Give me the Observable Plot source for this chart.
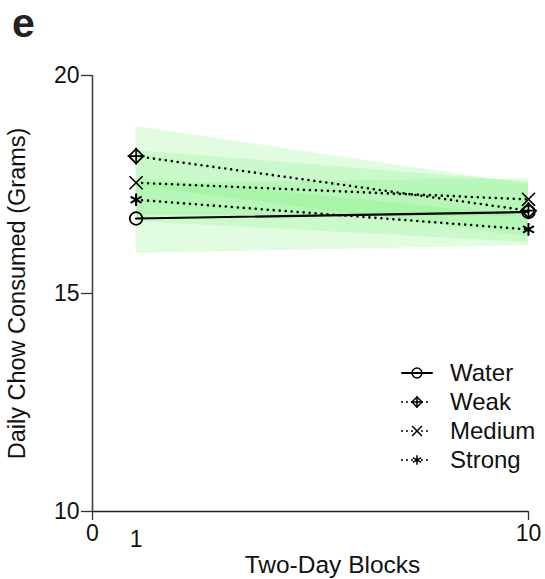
<!DOCTYPE html>
<html>
<head>
<meta charset="utf-8">
<script src="https://cdn.jsdelivr.net/npm/d3@7"></script>
<script src="https://cdn.jsdelivr.net/npm/@observablehq/plot@0.6"></script>
<style>
  body { margin: 0; background: #fff; }
  #wrap { position: relative; width: 545px; height: 579px; font-family: "Liberation Sans", Arial, Helvetica, sans-serif; }
  #panel { position: absolute; left: 12px; top: 2.5px; font-size: 41px; font-weight: bold; line-height: 1; color: #222; }
  #legend { position: absolute; left: 400px; top: 358px; font-size: 24px; color: #111; }
  .row { display: flex; align-items: center; height: 29px; }
  .row svg { margin-right: 16px; }
</style>
</head>
<body>
<div id="wrap">
  <div id="chart"></div>
  <div id="panel">e</div>
  <div id="legend"></div>
</div>
<script>
// Two-day blocks sampled
const blocks = [1, 10];
const seriesNames = ["Water", "Weak", "Medium", "Strong"];

// Mean daily chow (g) per block
const waterMean  = [16.72, 16.87];
const weakMean   = [18.15, 16.90];
const mediumMean = [17.54, 17.16];
const strongMean = [17.15, 16.47];

// Standard error per block
const waterSem  = [0.80, 0.77];
const weakSem   = [0.68, 0.60];
const mediumSem = [0.74, 0.40];
const strongSem = [0.50, 0.30];

// Axis ticks
const xTicks = [0, 10];
const yTicks = [10, 15, 20];

const means = [waterMean, weakMean, mediumMean, strongMean];
const sems = [waterSem, weakSem, mediumSem, strongSem];

const rows = seriesNames.flatMap((s, i) =>
  blocks.map((b, j) => ({
    series: s,
    block: b,
    mean: means[i][j],
    lo: means[i][j] - sems[i][j],
    hi: means[i][j] + sems[i][j]
  }))
);
const of = (s) => rows.filter(d => d.series === s);

const font = "Liberation Sans, Arial, Helvetica, sans-serif";
const ink = "#111";

const chart = Plot.plot({
  width: 545,
  height: 579,
  marginLeft: 92,
  marginRight: 17,
  marginTop: 75,
  marginBottom: 68,
  style: { fontFamily: font, background: "white", color: ink },
  x: { domain: [0, 10] },
  y: { domain: [10, 20] },
  marks: [
    // error bands
    Plot.areaY(rows, { x: "block", y1: "lo", y2: "hi", z: "series", fill: "#6ef06e", fillOpacity: 0.2 }),
    // axes
    Plot.ruleX([0], { y1: 10, y2: 20, stroke: "#444", strokeWidth: 1.6 }),
    Plot.ruleY([10], { x1: 0, x2: 10, stroke: "#222", strokeWidth: 1.3 }),
    Plot.axisY({ ticks: yTicks, tickSize: 11, tickPadding: 2, fontSize: 23, label: null, stroke: "#333", strokeWidth: 1.3 }),
    Plot.axisX({ ticks: xTicks, tickSize: 9, tickPadding: 4, fontSize: 23, label: null, stroke: "#333", strokeWidth: 1.3 }),
    Plot.text(blocks.slice(0, 1), { x: d => d, frameAnchor: "bottom", lineAnchor: "middle", dy: 28, fontSize: 23, fill: ink }),
    Plot.text(["Daily Chow Consumed (Grams)"], { frameAnchor: "left", textAnchor: "middle", lineAnchor: "middle", rotate: -90, dx: -75, fontSize: 23.5, fill: ink }),
    Plot.text(["Two-Day Blocks"], { frameAnchor: "bottom", lineAnchor: "middle", dx: 22, dy: 54, fontSize: 24.5, fill: ink }),
    // lines
    Plot.line(of("Water"), { x: "block", y: "mean", stroke: "black", strokeWidth: 2.2 }),
    Plot.line(rows.filter(d => d.series !== "Water"), {
      x: "block", y: "mean", z: "series", stroke: "black",
      strokeWidth: 2.6, strokeDasharray: "0 6", strokeLinecap: "round"
    }),
    // markers
    Plot.dot(of("Water"), { x: "block", y: "mean", r: 6.3, stroke: "black", strokeWidth: 1.8, fill: "none" }),
    Plot.dot(of("Weak"), { x: "block", y: "mean", symbol: "diamond2", r: 6.5, stroke: "black", strokeWidth: 1.8 }),
    Plot.dot(of("Weak"), { x: "block", y: "mean", symbol: "plus", r: 5.5, stroke: "black", strokeWidth: 1.6 }),
    Plot.dot(of("Medium"), { x: "block", y: "mean", symbol: "times", r: 6, stroke: "black", strokeWidth: 1.6 }),
    Plot.dot(of("Strong"), { x: "block", y: "mean", symbol: "asterisk", r: 6, stroke: "black", strokeWidth: 2 })
  ]
});
document.getElementById("chart").append(chart);

// legend: line sample with the series marker
const legendSymbols = {
  Water: [d3.symbolCircle],
  Weak: [d3.symbolDiamond2, d3.symbolPlus],
  Medium: [d3.symbolTimes],
  Strong: [d3.symbolAsterisk]
};
const legend = d3.select("#legend");
for (const s of seriesNames) {
  const row = legend.append("div").attr("class", "row");
  const svg = row.append("svg").attr("width", 34).attr("height", 20);
  const line = svg.append("line").attr("x1", 2).attr("x2", 32).attr("y1", 10).attr("y2", 10)
    .attr("stroke", "black").attr("stroke-linecap", "round");
  if (s === "Water") line.attr("stroke-width", 2);
  else line.attr("stroke-width", 2).attr("stroke-dasharray", "0 5");
  const size = s === "Water" ? 75 : 65;
  for (const sym of legendSymbols[s]) {
    svg.append("path").attr("transform", "translate(17,10)")
      .attr("d", d3.symbol(sym, sym === d3.symbolPlus ? 45 : size)())
      .attr("fill", "none")
      .attr("stroke", "black").attr("stroke-width", 1.5);
  }
  row.append("span").text(s);
}
</script>
</body>
</html>
